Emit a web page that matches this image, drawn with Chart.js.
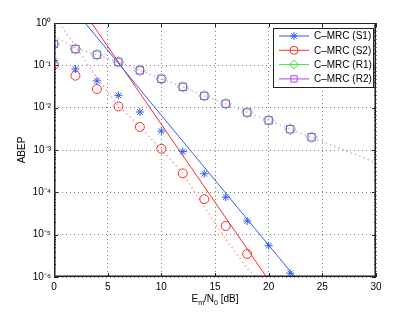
<!DOCTYPE html>
<html lang="en">
<head>
<meta charset="UTF-8">
<title>ABEP vs Em/N0</title>
<style>
  html, body { margin: 0; padding: 0; background: #fff; }
  #wrap { width: 415px; height: 313px; }
</style>
<script src="https://cdn.jsdelivr.net/npm/chart.js"></script>
</head>
<body>
<div id="wrap"><canvas id="chart" width="415" height="313"></canvas></div>
<script>
// simulated points (markers)
const simSnr = [0, 2, 4, 6, 8, 10, 12, 14, 16, 18, 20, 22, 24];
const s1Sim = [0.13, 0.082, 0.043, 0.0195, 0.0079, 0.0028, 9.2e-4, 2.75e-4, 7.7e-5, 2.1e-5, 5.5e-6, 1.23e-6];
const s2Sim = [0.103, 0.057, 0.0275, 0.0107, 0.0035, 0.00107, 2.8e-4, 6.9e-5, 1.6e-5, 3.5e-6];
const r1Sim = [0.32, 0.243, 0.178, 0.12, 0.076, 0.048, 0.031, 0.019, 0.0124, 0.0077, 0.005, 0.0031, 0.002];
const r2Sim = [0.32, 0.243, 0.178, 0.12, 0.076, 0.048, 0.031, 0.019, 0.0124, 0.0077, 0.005, 0.0031, 0.002];

// solid lines (high SNR approximations)
const s1AsymSnr = [2.9, 22.45];
const s1Asym = [1, 1e-6];
const s2AsymSnr = [3.5, 19.8];
const s2Asym = [1, 1e-6];

// dotted curves
const s2ExactSnr = [0.5, 2, 4, 6, 8, 10, 12, 14, 16, 18, 19];
const s2Exact = [1, 0.28, 0.05, 0.0112, 0.0035, 0.00105, 2.8e-4, 4.5e-5, 7.9e-6, 1.6e-6, 9e-7];
const rExactSnr = [0, 2, 4, 6, 8, 10, 12, 14, 16, 18, 20, 22, 24, 30];
const rExact = [0.5, 0.25, 0.178, 0.12, 0.076, 0.048, 0.031, 0.019, 0.0123, 0.0078, 0.005, 0.0031, 0.002, 5e-4];

const yTicks = [1, 1e-1, 1e-2, 1e-3, 1e-4, 1e-5, 1e-6];
const yTickLabels = ['10⁰', '10⁻¹', '10⁻²', '10⁻³', '10⁻⁴', '10⁻⁵', '10⁻⁶'];
const legendLabels = ['C–MRC (S1)', 'C–MRC (S2)', 'C–MRC (R1)', 'C–MRC (R2)'];

const BLUE = '#2f5cff', RED = '#ff2a2a', GREEN = '#33ee33', PURPLE = '#a648ee';
const FONT = "'Liberation Sans', Arial, sans-serif";

function pts(xs, ys) { return ys.map((v, i) => ({ x: xs[i], y: v })); }

function marks(label, data, color, style, r) {
  return {
    label: label, data: data, showLine: false,
    pointStyle: style, pointRadius: r, pointBorderWidth: 1,
    borderColor: color, pointBorderColor: color,
    backgroundColor: 'rgba(0,0,0,0)', pointBackgroundColor: 'rgba(0,0,0,0)'
  };
}
function curve(data, color, dash, w) {
  return {
    label: '', data: data, showLine: true, pointRadius: 0,
    borderColor: color, borderWidth: w, borderDash: dash, fill: false, tension: 0
  };
}

const datasets = [
  marks(legendLabels[0], pts(simSnr, s1Sim), BLUE, 'star', 4),
  marks(legendLabels[1], pts(simSnr, s2Sim), RED, 'circle', 4.5),
  marks(legendLabels[3], pts(simSnr, r2Sim), PURPLE, 'rect', 5.2),
  marks(legendLabels[2], pts(simSnr, r1Sim), GREEN, 'rectRot', 5.5),
  curve(pts(s1AsymSnr, s1Asym), BLUE, [], 1),
  curve(pts(s2AsymSnr, s2Asym), RED, [], 1),
  curve(pts(s2ExactSnr, s2Exact), '#ffa3a3', [1.5, 3], 1.5),
  curve(pts(rExactSnr, rExact), '#d9aaf3', [1.5, 3], 1.5)
];

// box, inward ticks, axis titles and the legend
const decor = {
  id: 'decor',
  afterDatasetsDraw(chart) {
    const ctx = chart.ctx, a = chart.chartArea;
    const x = chart.scales.x, y = chart.scales.y;
    ctx.save();
    ctx.strokeStyle = '#222';
    ctx.lineWidth = 1;
    ctx.beginPath();
    for (let v = 0; v <= 30; v += 5) {
      const px = Math.round(x.getPixelForValue(v)) + 0.5;
      ctx.moveTo(px, a.top); ctx.lineTo(px, a.top + 4);
      ctx.moveTo(px, a.bottom); ctx.lineTo(px, a.bottom - 4);
    }
    for (let e = -6; e <= 0; e++) {
      const py = Math.round(y.getPixelForValue(Math.pow(10, e))) + 0.5;
      ctx.moveTo(a.left, py); ctx.lineTo(a.left + 4, py);
      ctx.moveTo(a.right, py); ctx.lineTo(a.right - 4, py);
      if (e === 0) break;
      for (let m = 2; m <= 9; m++) {
        const q = Math.round(y.getPixelForValue(m * Math.pow(10, e))) + 0.5;
        ctx.moveTo(a.left, q); ctx.lineTo(a.left + 2, q);
        ctx.moveTo(a.right, q); ctx.lineTo(a.right - 2, q);
      }
    }
    ctx.stroke();
    ctx.strokeRect(a.left + 0.5, a.top + 0.5, a.right - a.left - 1, a.bottom - a.top - 1);
    // left and bottom axes a little heavier, as in the original
    ctx.strokeStyle = 'rgba(60,60,60,0.6)';
    ctx.beginPath();
    ctx.moveTo(a.left + 1.5, a.top); ctx.lineTo(a.left + 1.5, a.bottom);
    ctx.moveTo(a.left, a.bottom - 1.5); ctx.lineTo(a.right, a.bottom - 1.5);
    ctx.moveTo(a.right - 1.5, a.top); ctx.lineTo(a.right - 1.5, a.bottom);
    ctx.stroke();
    ctx.restore();

    // x title  E_m/N_0 [dB]
    ctx.save();
    ctx.fillStyle = '#000';
    ctx.textBaseline = 'alphabetic';
    const parts = [['E', 10, 0], ['m', 7, 3], ['/N', 10, 0], ['0', 7, 3], [' [dB]', 10, 0]];
    let total = 0;
    parts.forEach(p => { ctx.font = p[1] + 'px ' + FONT; total += ctx.measureText(p[0]).width; });
    let cx = (a.left + a.right) / 2 - total / 2;
    const base = a.bottom + 25;
    parts.forEach(p => {
      ctx.font = p[1] + 'px ' + FONT;
      ctx.fillText(p[0], cx, base + p[2]);
      cx += ctx.measureText(p[0]).width;
    });
    // y title
    ctx.translate(22, (a.top + a.bottom) / 2);
    ctx.rotate(-Math.PI / 2);
    ctx.font = '10px ' + FONT;
    ctx.textAlign = 'center';
    ctx.textBaseline = 'middle';
    ctx.fillText('ABEP', 0, 0);
    ctx.restore();

    // legend (MATLAB style: line + marker)
    const items = [
      [legendLabels[0], BLUE, 'star', 4],
      [legendLabels[1], RED, 'circle', 4],
      [legendLabels[2], GREEN, 'rectRot', 4.5],
      [legendLabels[3], PURPLE, 'rect', 4.5]
    ];
    const bx = a.right - 103, by = a.top + 5, bw = 100, bh = 59;
    ctx.save();
    ctx.fillStyle = '#fff';
    ctx.fillRect(bx, by, bw, bh);
    ctx.strokeStyle = '#222';
    ctx.lineWidth = 1;
    ctx.strokeRect(bx + 0.5, by + 0.5, bw, bh);
    items.forEach((it, i) => {
      const ly = by + 8 + i * 14.3;
      ctx.strokeStyle = it[1];
      ctx.lineWidth = 1;
      ctx.beginPath();
      ctx.moveTo(bx + 6, ly); ctx.lineTo(bx + 36, ly);
      ctx.stroke();
      ctx.fillStyle = 'rgba(0,0,0,0)';
      Chart.helpers.drawPoint(ctx, { pointStyle: it[2], radius: it[3], rotation: 0, borderWidth: 1 }, bx + 21, ly);
      ctx.fillStyle = '#000';
      ctx.font = '10px ' + FONT;
      ctx.textBaseline = 'middle';
      ctx.fillText(it[0], bx + 41, ly + 0.5);
    });
    ctx.restore();
  }
};

new Chart(document.getElementById('chart'), {
  type: 'scatter',
  data: { datasets: datasets },
  options: {
    responsive: false,
    animation: false,
    devicePixelRatio: 1,
    layout: { padding: { left: 0, top: 23, right: 39, bottom: 0 } },
    plugins: { legend: { display: false }, tooltip: { enabled: false } },
    scales: {
      x: {
        type: 'linear', min: 0, max: 30,
        afterFit: s => { s.height = 36; },
        ticks: { stepSize: 5, color: '#000', font: { family: FONT, size: 10 }, padding: 4, maxRotation: 0 },
        grid: { color: 'rgba(0,0,0,0.5)', drawTicks: false, lineWidth: 1 },
        border: { display: false, dash: [1, 3] }
      },
      y: {
        type: 'logarithmic', min: 1e-6, max: 1,
        afterFit: s => { s.width = 54; },
        afterBuildTicks: s => { s.ticks = yTicks.map(v => ({ value: v })); },
        ticks: {
          color: '#000', font: { family: FONT, size: 10 }, padding: 3,
          callback: (v) => { const i = yTicks.findIndex(t => Math.abs(Math.log10(t) - Math.log10(v)) < 1e-6); return i >= 0 ? yTickLabels[i] : ''; }
        },
        grid: { color: 'rgba(0,0,0,0.5)', drawTicks: false, lineWidth: 1 },
        border: { display: false, dash: [1, 3] }
      }
    }
  },
  plugins: [decor]
});
</script>
</body>
</html>
